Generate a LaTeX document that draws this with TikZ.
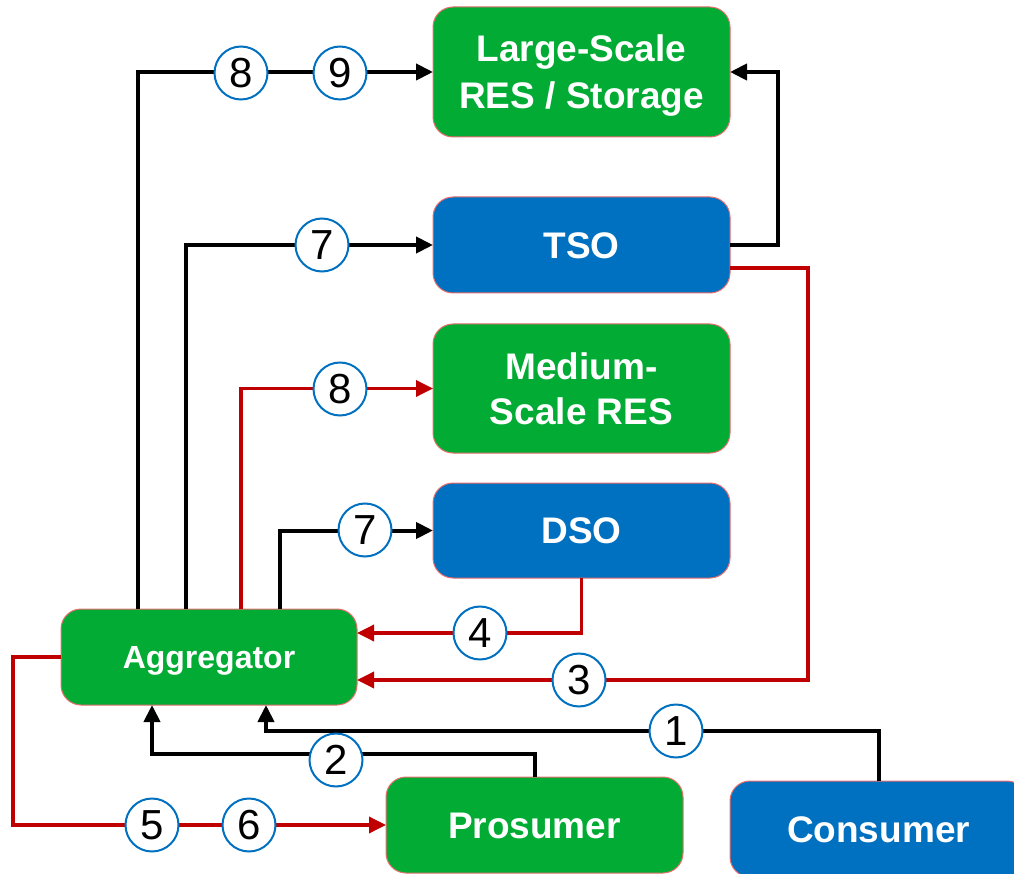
\documentclass[tikz,border=0pt]{standalone}
\usepackage{fontspec}
\setmainfont{Liberation Sans}
\usetikzlibrary{arrows.meta,calc}
\definecolor{boxgreen}{RGB}{2,172,52}
\definecolor{boxblue}{RGB}{0,112,192}
\definecolor{linered}{RGB}{192,0,0}
\definecolor{edgepink}{RGB}{232,110,110}
\tikzset{
  box/.style={draw=edgepink, line width=1pt, rounded corners=20pt, minimum width=297pt, outer sep=0pt, inner sep=0pt, text=white, align=center, text depth=0pt, text height=26.5pt, font=\bfseries\fontsize{37}{47}\selectfont},
  gbox/.style={box, fill=boxgreen},
  bbox/.style={box, fill=boxblue},
  num/.style={circle, draw=boxblue, line width=2pt, fill=white, minimum size=53pt, inner sep=0pt, font=\fontsize{42}{42}\selectfont},
  blk/.style={line width=4pt, black, -{Triangle[length=17pt,width=16pt]}},
  red/.style={line width=3.5pt, linered, -{Triangle[length=17pt,width=16pt]}},
}
\begin{document}
\begin{tikzpicture}[x=1pt,y=-1pt]
\useasboundingbox (0,0) rectangle (1014,874);
\clip (0,0) rectangle (1014,874);
% boxes
\node[gbox, minimum height=130pt, text height=73.5pt] (large) at (581.5,72) {Large-Scale\\RES / Storage};
\node[bbox, minimum height=96pt] (tso) at (581.5,245) {TSO};
\node[gbox, minimum height=129pt, text height=71.5pt, font=\bfseries\fontsize{37}{45}\selectfont] (med) at (581.5,388.5) {Medium-\\Scale RES};
\node[bbox, minimum height=95pt] (dso) at (581.5,530.5) {DSO};
\node[gbox, minimum width=296pt, minimum height=96pt, text height=23pt, font=\bfseries\fontsize{32}{40}\selectfont] (agg) at (209,657) {Aggregator};
\node[gbox, minimum height=96pt] (pro) at (534.5,825) {Prosumer};
\node[bbox, minimum height=96pt] (cons) at (878.5,829) {Consumer};
% connectors
\draw[blk] ($(agg.north west)+(77,0)$) |- (large.west);
\draw[blk] ($(agg.north west)+(125,0)$) |- (tso.west);
\draw[red] ($(agg.north west)+(180,0)$) |- (med.west);
\draw[blk] ($(agg.north west)+(219,0)$) |- (dso.west);
\draw[red] (dso.south) |- ($(agg.east)+(0,-24)$);
\draw[red] ($(tso.east)+(0,23)$) -| ($(tso.east)+(78,435)$) -- ($(agg.east)+(0,23)$);
\draw[blk] (tso.east) -| ($(large.east)+(48,0)$) -- (large.east);
\draw[blk] (cons.north) |- ($(agg.south west)+(205,26)$) -- ($(agg.south west)+(205,0)$);
\draw[blk] (pro.north) |- ($(agg.south west)+(91,49)$) -- ($(agg.south west)+(91,0)$);
\draw[red] (agg.west) -| ($(agg.west)+(-48,0)$) |- (pro.west);
% numbers
\node[num] (n8a) at (241,73) {8};
\node[num] (n9) at (340,73) {9};
\node[num] (n7a) at (322,245) {7};
\node[num] (n8b) at (340,389) {8};
\node[num] (n7b) at (365,530) {7};
\node[num] (n4) at (480,633) {4};
\node[num] (n3) at (579,680) {3};
\node[num] (n1) at (676,731) {1};
\node[num] (n2) at (336,760) {2};
\node[num] (n5) at (152,825) {5};
\node[num] (n6) at (249,825) {6};
\end{tikzpicture}
\end{document}
